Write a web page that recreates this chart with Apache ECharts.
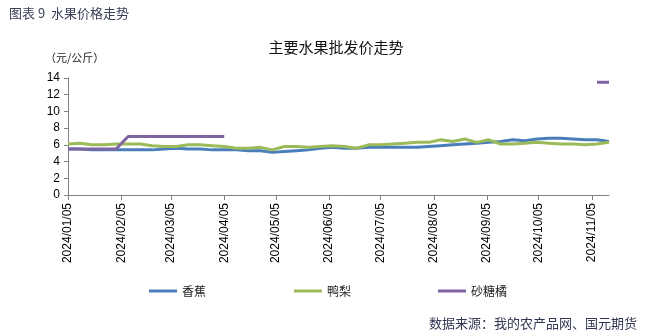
<!DOCTYPE html>
<html>
<head>
<meta charset="utf-8">
<style>
  html, body { margin: 0; padding: 0; background: #fff; }
  #chart { width: 648px; height: 332px; }
</style>
<script src="https://cdn.jsdelivr.net/npm/echarts@6/dist/echarts.min.js"></script>
</head>
<body>
<div id="chart"></div>
<script>
// Weekly observation dates (Fridays)
const weekDates = [
  '2024-01-05','2024-01-12','2024-01-19','2024-01-26','2024-02-02','2024-02-09','2024-02-16','2024-02-23',
  '2024-03-01','2024-03-08','2024-03-15','2024-03-22','2024-03-29','2024-04-05','2024-04-12','2024-04-19',
  '2024-04-26','2024-05-03','2024-05-10','2024-05-17','2024-05-24','2024-05-31','2024-06-07','2024-06-14',
  '2024-06-21','2024-06-28','2024-07-05','2024-07-12','2024-07-19','2024-07-26','2024-08-02','2024-08-09',
  '2024-08-16','2024-08-23','2024-08-30','2024-09-06','2024-09-13','2024-09-20','2024-09-27','2024-10-04',
  '2024-10-11','2024-10-18','2024-10-25','2024-11-01','2024-11-08','2024-11-15'
];

// Wholesale prices, yuan/kg
const banana = [
  5.5, 5.5, 5.4, 5.4, 5.4, 5.4, 5.4, 5.4, 5.5, 5.6, 5.5, 5.5, 5.4, 5.4, 5.4, 5.3,
  5.3, 5.1, 5.2, 5.3, 5.4, 5.6, 5.7, 5.6, 5.6, 5.7, 5.7, 5.7, 5.7, 5.7, 5.8, 5.9,
  6.0, 6.1, 6.2, 6.3, 6.4, 6.6, 6.5, 6.7, 6.8, 6.8, 6.7, 6.6, 6.6, 6.4
];
const yaPear = [
  6.1, 6.2, 6.0, 6.0, 6.1, 6.1, 6.1, 5.9, 5.8, 5.8, 6.0, 6.0, 5.9, 5.8, 5.6, 5.6,
  5.7, 5.4, 5.8, 5.8, 5.7, 5.8, 5.9, 5.8, 5.6, 6.0, 6.0, 6.1, 6.2, 6.3, 6.3, 6.6,
  6.4, 6.7, 6.3, 6.6, 6.1, 6.1, 6.2, 6.3, 6.2, 6.1, 6.1, 6.0, 6.1, 6.3
];
const shatangju = [
  5.5, 5.5, 5.5, 5.5, 5.5, 7.0, 7.0, 7.0, 7.0, 7.0, 7.0, 7.0, 7.0, 7.0, null, null,
  null, null, null, null, null, null, null, null, null, null, null, null, null, null, null, null,
  null, null, null, null, null, null, null, null, null, null, null, null, 13.5, 13.5
];

const seriesNames = ['香蕉', '鸭梨', '砂糖橘'];
const seriesColors = ['#4a7ebb', '#9bbb59', '#8064a2'];
const yTicks = { min: 0, max: 14, interval: 2 };

// Daily category axis so month ticks land on the 5th of each month
const dayCats = [];
(function () {
  const start = new Date(Date.UTC(2024, 0, 5));
  const end = new Date(Date.UTC(2024, 10, 15));
  for (let d = start; d <= end; d = new Date(d.getTime() + 86400000)) {
    dayCats.push(d.toISOString().slice(0, 10));
  }
})();

const isMonthTick = (idx, val) => val.slice(8, 10) === '05';
const pair = (vals) => weekDates.map((d, i) => [d, vals[i]]);

const chart = echarts.init(document.getElementById('chart'), null, { renderer: 'canvas' });
const cjk = '"Noto Sans CJK SC", sans-serif';
const latin = '"Liberation Sans", Arial, sans-serif';

const legendBase = (name, left) => ({
  data: [name],
  left: left,
  top: 280,
  icon: 'rect',
  itemWidth: 28,
  itemHeight: 3,
  itemGap: 0,
  textStyle: { fontFamily: cjk, fontSize: 12, color: '#222' }
});

chart.setOption({
  animation: false,
  backgroundColor: '#fff',
  title: [
    { text: '图表 9  水果价格走势', left: 4, top: 2,
      textStyle: { fontFamily: cjk, fontSize: 13, fontWeight: 'normal', color: '#3a4257' } },
    { text: '主要水果批发价走势', left: 331, textAlign: 'center', top: 35,
      textStyle: { fontFamily: cjk, fontSize: 15, fontWeight: 'normal', color: '#111' } },
    { text: '（元/公斤）', left: 40, top: 47,
      textStyle: { fontFamily: cjk, fontSize: 11, fontWeight: 'normal', color: '#222' } },
    { text: '数据来源：我的农产品网、国元期货', right: 6, top: 312,
      textStyle: { fontFamily: cjk, fontSize: 13, fontWeight: 'normal', color: '#2e3650' } }
  ],
  legend: [
    legendBase(seriesNames[0], 144),
    legendBase(seriesNames[1], 289),
    legendBase(seriesNames[2], 433)
  ],
  grid: { left: 68, right: 39, top: 78, bottom: 137 },
  xAxis: {
    type: 'category',
    data: dayCats,
    boundaryGap: false,
    axisLine: { lineStyle: { color: '#808080', width: 1 } },
    axisTick: { show: true, interval: isMonthTick, length: 5, lineStyle: { color: '#808080' } },
    axisLabel: {
      interval: isMonthTick,
      rotate: 90,
      margin: 8,
      fontFamily: latin,
      fontSize: 12,
      color: '#000',
      formatter: (v) => v.replace(/-/g, '/')
    },
    splitLine: { show: false }
  },
  yAxis: {
    type: 'value',
    min: yTicks.min,
    max: yTicks.max,
    interval: yTicks.interval,
    axisLine: { show: true, lineStyle: { color: '#808080', width: 1 } },
    axisTick: { show: true, length: 4, lineStyle: { color: '#808080' } },
    axisLabel: { fontFamily: latin, fontSize: 12, color: '#000', margin: 8 },
    splitLine: { show: false }
  },
  series: [banana, yaPear, shatangju].map((vals, i) => ({
    name: seriesNames[i],
    type: 'line',
    data: pair(vals),
    showSymbol: false,
    symbol: 'none',
    connectNulls: false,
    lineStyle: { color: seriesColors[i], width: 3 },
    itemStyle: { color: seriesColors[i] }
  }))
});
</script>
</body>
</html>
